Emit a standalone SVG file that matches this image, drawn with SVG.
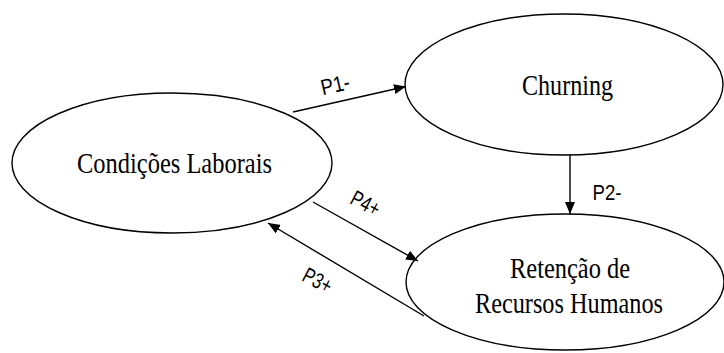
<svg xmlns="http://www.w3.org/2000/svg" width="724" height="353" viewBox="0 0 724 353">
<style>
.node ellipse{fill:#fff;stroke:#000;stroke-width:1.4}
.node text{font-family:"Liberation Serif","Times New Roman",serif;font-size:30px;fill:#000;text-anchor:middle}
.conn line{stroke:#000;stroke-width:1.4;marker-end:url(#ah)}
.lbl{font-family:"Liberation Sans",Arial,sans-serif;font-size:22px;fill:#000;text-anchor:middle}
</style>
<defs>
<marker id="ah" viewBox="0 0 12 10" refX="12" refY="5" markerWidth="12" markerHeight="10" markerUnits="userSpaceOnUse" orient="auto">
<path d="M0,0 L12,5 L0,10 Z" fill="#000"/>
</marker>
</defs>
<rect width="724" height="353" fill="#fff"/>
<g id="condicoes" class="node">
<ellipse cx="172" cy="163" rx="160" ry="70"/>
<text x="174.5" y="173" textLength="195" lengthAdjust="spacingAndGlyphs">Condições Laborais</text>
</g>
<g id="churning" class="node">
<ellipse cx="564" cy="84.5" rx="159" ry="70.5"/>
<text x="567.5" y="95" textLength="91" lengthAdjust="spacingAndGlyphs">Churning</text>
</g>
<g id="retencao" class="node">
<ellipse cx="565" cy="282" rx="159" ry="68"/>
<text x="570" y="278" textLength="120" lengthAdjust="spacingAndGlyphs">Retenção de</text>
<text x="569" y="313" textLength="188" lengthAdjust="spacingAndGlyphs">Recursos Humanos</text>
</g>
<g id="connectors" class="conn">
<line x1="293" y1="112" x2="406" y2="86.5"/>
<line x1="570" y1="155" x2="570" y2="214"/>
<line x1="313" y1="202" x2="418" y2="261"/>
<line x1="424" y1="316" x2="268" y2="223"/>
</g>
<g id="labels">
<text class="lbl" x="337" y="92" textLength="29" lengthAdjust="spacingAndGlyphs" transform="rotate(-13 337 92)">P1-</text>
<text class="lbl" x="607" y="200" textLength="29" lengthAdjust="spacingAndGlyphs">P2-</text>
<text class="lbl" x="362" y="210" textLength="30" lengthAdjust="spacingAndGlyphs" transform="rotate(28 362 210)">P4+</text>
<text class="lbl" x="314" y="287" textLength="30" lengthAdjust="spacingAndGlyphs" transform="rotate(28 314 287)">P3+</text>
</g>
</svg>
